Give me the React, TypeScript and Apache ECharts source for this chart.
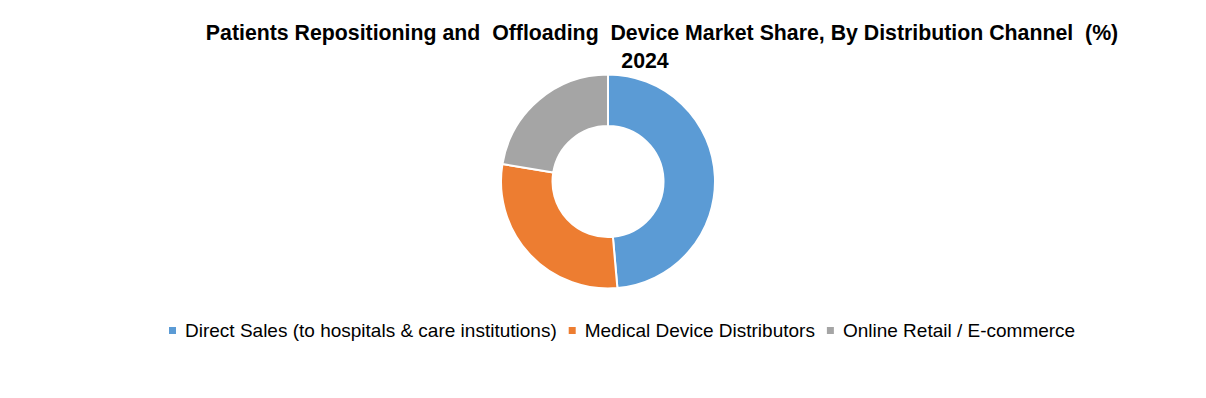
import React, { useEffect, useRef } from "react";
import * as echarts from "echarts";

const titleLine1 = "Patients Repositioning and  Offloading  Device Market Share, By Distribution Channel  (%)";
const titleLine2 = "2024";
const categories = [
  "Direct Sales (to hospitals & care institutions)",
  "Medical Device Distributors",
  "Online Retail / E-commerce",
];
const shares = [48.6, 29.0, 22.4];
const colors = ["#5B9BD5", "#ED7D31", "#A5A5A5"];

const FONT = "'Liberation Sans', Arial, sans-serif";

export default function App() {
  const ref = useRef<HTMLDivElement>(null);
  useEffect(() => {
    if (!ref.current) return;
    const chart = echarts.init(ref.current, undefined, { renderer: "svg" });
    chart.setOption({
      animation: false,
      backgroundColor: "#ffffff",
      title: [
        {
          text: titleLine1,
          left: 649,
          top: 9,
          textAlign: "center",
          textStyle: { fontFamily: FONT, fontWeight: "bold", fontSize: 21.3, color: "#000" },
        },
        {
          text: titleLine2,
          left: 632,
          top: 37,
          textAlign: "center",
          textStyle: { fontFamily: FONT, fontWeight: "bold", fontSize: 21.3, color: "#000" },
        },
      ],
      legend: {
        data: categories,
        left: 154,
        top: 308,
        icon: "rect",
        itemWidth: 9,
        itemHeight: 9,
        itemGap: 10,
        textStyle: { fontFamily: FONT, fontSize: 19, color: "#000", padding: [0, 0, 0, 3] },
      },
      color: colors,
      series: [
        {
          type: "pie",
          center: [600, 173.5],
          radius: [55.5, 107],
          startAngle: 90,
          clockwise: true,
          label: { show: false },
          labelLine: { show: false },
          emphasis: { disabled: true },
          itemStyle: { borderColor: "#ffffff", borderWidth: 2 },
          data: categories.map((name, i) => ({ name, value: shares[i] })),
        },
      ],
    });
    return () => chart.dispose();
  }, []);
  return <div ref={ref} style={{ width: 1190, height: 382 }} />;
}
